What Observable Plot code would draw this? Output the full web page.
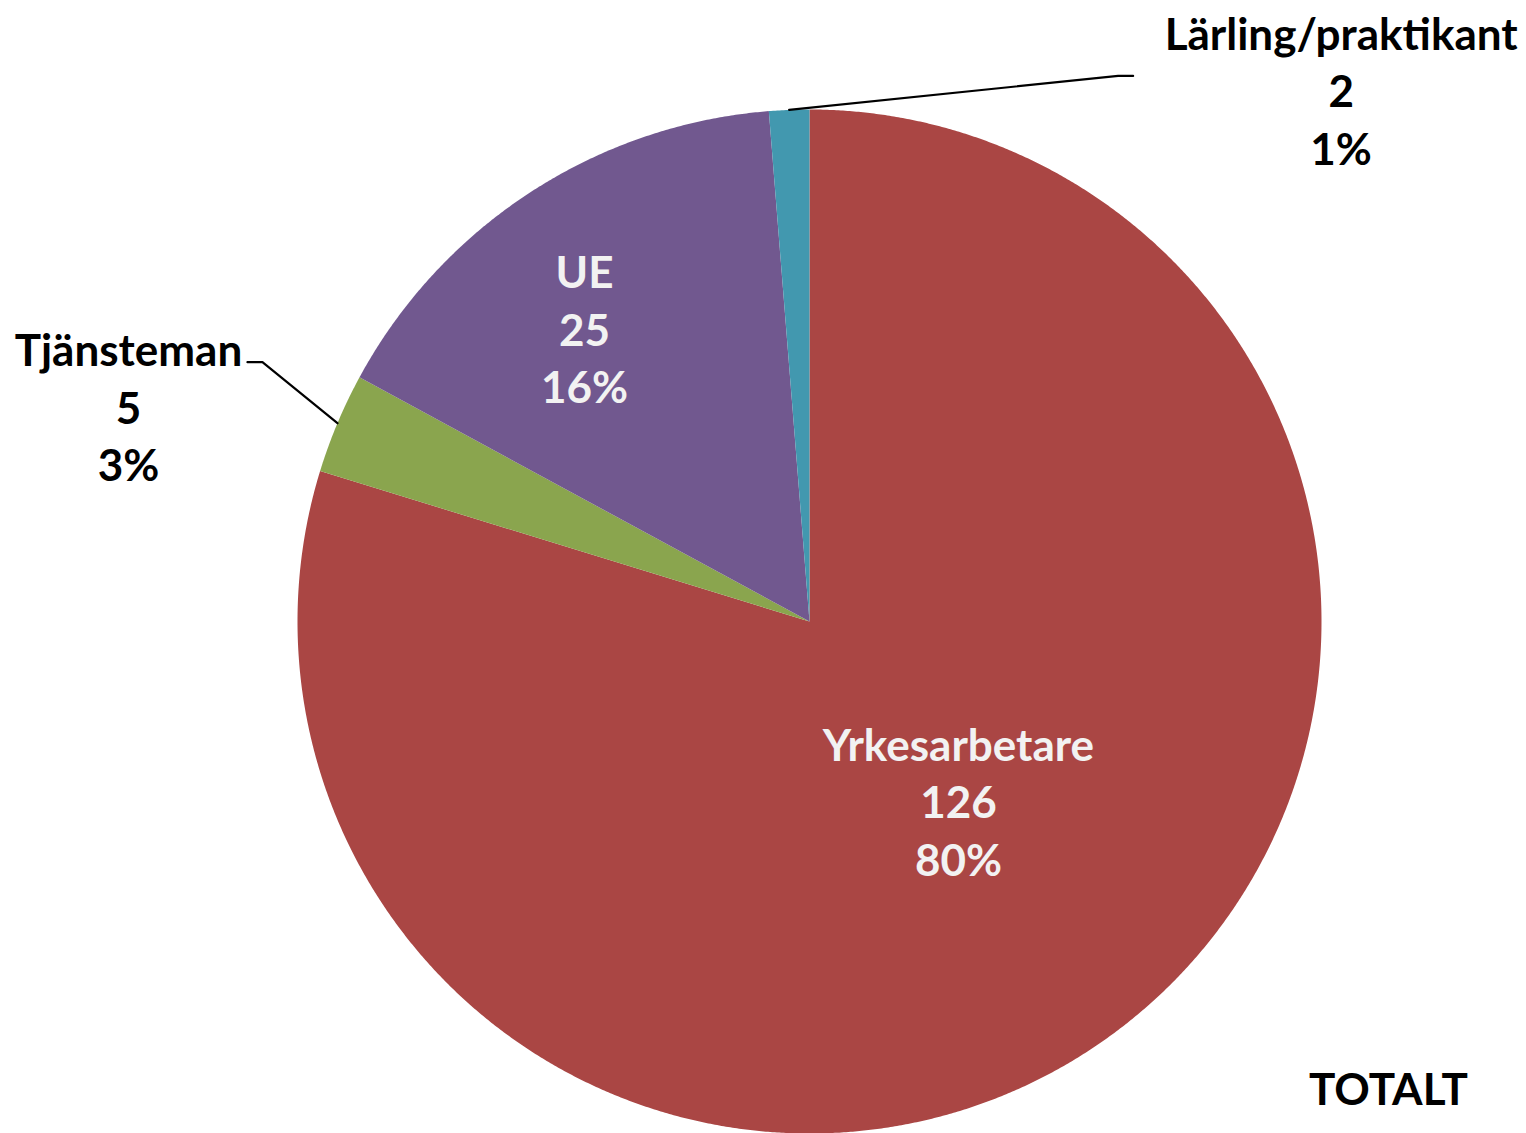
<!DOCTYPE html>
<html>
<head>
<meta charset="utf-8">
<script src="https://cdn.jsdelivr.net/npm/d3@7"></script>
<script src="https://cdn.jsdelivr.net/npm/@observablehq/plot@0.6"></script>
<style>
  html, body { margin: 0; padding: 0; background: #ffffff; }
  #chart svg { display: block; }
</style>
</head>
<body>
<div id="chart"></div>
<script>
// ---- data ----
const categories = ["Yrkesarbetare", "Tjänsteman", "UE", "Lärling/praktikant"];
const counts = [126, 5, 25, 2];
const percentLabels = ["80%", "3%", "16%", "1%"];
const chartTitle = "TOTALT";

// ---- styles ----
const sliceColors = ["#AA4644", "#8AA54E", "#71588F", "#4298AF"];
const W = 1526, H = 1133;
const RADIUS_PX = 512;
const FONT = "Lato, 'Open Sans', sans-serif";
const FS = 44;
const LH = 57.5 / FS;
const TEXT_SHIFT = -2;
// label layout (pixel nudges), inside: radius factor + nudge; outside: leader elbow/end + text offset
const labelLayout = {
  "Yrkesarbetare": {inside: true, r: 0.46, dx: 9, dy: -9},
  "UE": {inside: true, r: 0.72, dx: -24, dy: 17},
  "Tjänsteman": {inside: false, elbow: [-75, -61], end: [-15, 0], text: [-209, -16]},
  "Lärling/praktikant": {inside: false, elbow: [329, -34], end: [15, 0], text: [552, -19]}
};

const rows = categories.map((c, i) => ({cat: c, count: counts[i], pct: percentLabels[i]}));
const arcs = d3.pie().sort(null).value(d => d.count)(rows);

// polygon outline of each slice in unit-circle coordinates (angle 0 at top, clockwise)
const polys = [];
for (const a of arcs) {
  polys.push({cat: a.data.cat, x: 0, y: 0});
  const n = Math.max(2, Math.ceil((a.endAngle - a.startAngle) / (Math.PI / 720)));
  for (let k = 0; k <= n; k++) {
    const t = a.startAngle + (a.endAngle - a.startAngle) * k / n;
    polys.push({cat: a.data.cat, x: Math.sin(t), y: Math.cos(t)});
  }
}

const insideLabels = [], outsideLabels = [], leaders = [];
for (const a of arcs) {
  const mid = (a.startAngle + a.endAngle) / 2;
  const L = labelLayout[a.data.cat];
  const txt = `${a.data.cat}\n${a.data.count}\n${a.data.pct}`;
  if (L.inside) {
    insideLabels.push({x: L.r * Math.sin(mid), y: L.r * Math.cos(mid), text: txt, dx: L.dx, dy: L.dy + TEXT_SHIFT});
  } else {
    const ex = Math.sin(mid), ey = Math.cos(mid);
    const bx = ex + L.elbow[0] / RADIUS_PX, by = ey - L.elbow[1] / RADIUS_PX;
    const cx = bx + L.end[0] / RADIUS_PX, cy = by - L.end[1] / RADIUS_PX;
    leaders.push({cat: a.data.cat, x: ex, y: ey}, {cat: a.data.cat, x: bx, y: by}, {cat: a.data.cat, x: cx, y: cy});
    outsideLabels.push({x: ex, y: ey, text: txt, dx: L.text[0], dy: L.text[1] + TEXT_SHIFT});
  }
}

const textMark = (data, fill) => data.map(d => Plot.text([d], {
  x: "x", y: "y", text: "text", dx: d.dx, dy: d.dy,
  fill, fontSize: FS, fontWeight: "bold", lineHeight: LH,
  textAnchor: "middle", lineAnchor: "middle", fontFamily: FONT
}));

const chart = Plot.plot({
  width: W,
  height: H,
  marginLeft: 297,
  marginRight: W - 297 - 2 * RADIUS_PX,
  marginTop: 109,
  marginBottom: 0,
  x: {domain: [-1, 1], axis: null},
  y: {domain: [-1, 1], axis: null},
  color: {domain: categories, range: sliceColors},
  style: {fontFamily: FONT, background: "#ffffff"},
  marks: [
    Plot.line(polys, {x: "x", y: "y", z: "cat", fill: "cat", stroke: "none", curve: "linear-closed"}),
    Plot.line(leaders, {x: "x", y: "y", z: "cat", stroke: "#000000", strokeWidth: 2.2, fill: "none"}),
    ...textMark(insideLabels, "#F2F2F2"),
    ...textMark(outsideLabels, "#000000"),
    Plot.text([chartTitle], {
      frameAnchor: "bottom-right", text: d => d, dx: 67, dy: -43,
      fontSize: FS, fontWeight: "bold", fill: "#000000",
      textAnchor: "middle", lineAnchor: "middle", fontFamily: FONT
    })
  ]
});
document.getElementById("chart").appendChild(chart);
</script>
</body>
</html>
